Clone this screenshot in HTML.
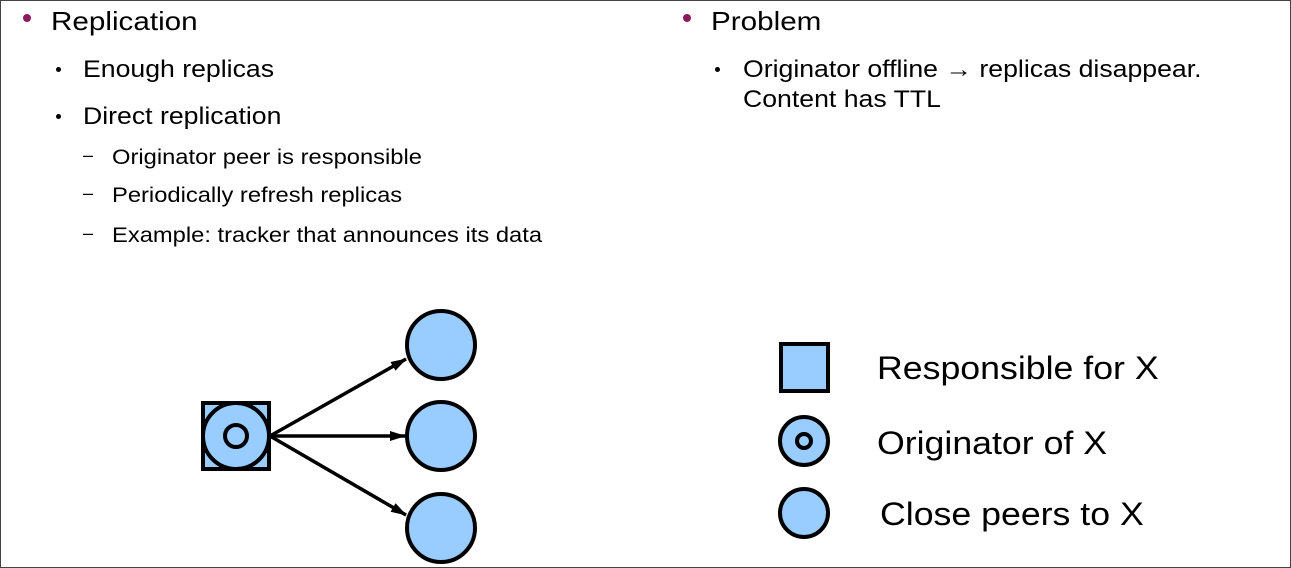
<!DOCTYPE html>
<html><head><style>
body{margin:0;width:1291px;height:568px;position:relative;background:#fff;font-family:"Liberation Sans",sans-serif;color:#000;overflow:hidden}
.frame{position:absolute;left:0;top:0;width:1289px;height:566px;border:1px solid #444}
.t{position:absolute;white-space:nowrap;line-height:1;transform-origin:0 0}
.b1{font-size:26px;transform:scaleX(1.14)}.b2{font-size:24px;transform:scaleX(1.11)}.b3{font-size:21px;transform:scaleX(1.13)}
.dot{position:absolute;width:8px;height:8px;border-radius:50%;background:#8b1a5e}
.sd{position:absolute;width:5px;height:5px;border-radius:50%;background:#000}
.lg{font-size:32px;transform:scaleX(1.115)}
</style></head><body>
<div class="frame"></div>
<div class="dot" style="left:23px;top:14px"></div>
<div class="t b1" style="left:51px;top:8px">Replication</div>
<div class="sd" style="left:56px;top:67px"></div>
<div class="t b2" style="left:83px;top:58px">Enough replicas</div>
<div class="sd" style="left:56px;top:114px"></div>
<div class="t b2" style="left:83px;top:105px">Direct replication</div>
<div class="t" style="left:83px;top:146px;font-size:18px">–</div>
<div class="t b3" style="left:112px;top:147px">Originator peer is responsible</div>
<div class="t" style="left:83px;top:184px;font-size:18px">–</div>
<div class="t b3" style="left:112px;top:185px">Periodically refresh replicas</div>
<div class="t" style="left:83px;top:224px;font-size:18px">–</div>
<div class="t b3" style="left:112px;top:225px">Example: tracker that announces its data</div>

<div class="dot" style="left:683px;top:14px"></div>
<div class="t b1" style="left:711px;top:8px">Problem</div>
<div class="sd" style="left:715px;top:67px"></div>
<div class="t b2" style="left:743px;top:58px">Originator offline → replicas disappear.</div>
<div class="t b2" style="left:743px;top:88px">Content has TTL</div>

<svg style="position:absolute;left:0;top:0" width="1291" height="568">
<defs><marker id="a" markerWidth="16" markerHeight="10" refX="15" refY="5" orient="auto" markerUnits="userSpaceOnUse"><path d="M0,0L16,5L0,10z"/></marker></defs>
<g stroke="#000" stroke-width="4" fill="#99ccff">
<rect x="203" y="403" width="66" height="66"/>
<circle cx="236" cy="436" r="33"/>
<circle cx="236" cy="436" r="11"/>
<circle cx="441" cy="345" r="34"/>
<circle cx="441" cy="436" r="34"/>
<circle cx="441" cy="528" r="34"/>
<g stroke-width="3.5" fill="none">
<line x1="270" y1="436" x2="406" y2="359" marker-end="url(#a)"/>
<line x1="270" y1="436" x2="405" y2="436" marker-end="url(#a)"/>
<line x1="270" y1="436" x2="406" y2="515" marker-end="url(#a)"/>
</g>
<rect x="781" y="344" width="47" height="47"/>
<circle cx="804" cy="441" r="24"/>
<circle cx="804" cy="441" r="7"/>
<circle cx="804" cy="513" r="24"/>
</g>
</svg>
<div class="t lg" style="left:877px;top:352px">Responsible for X</div>
<div class="t lg" style="left:877px;top:427px">Originator of X</div>
<div class="t lg" style="left:880px;top:498px">Close peers to X</div>
</body></html>
